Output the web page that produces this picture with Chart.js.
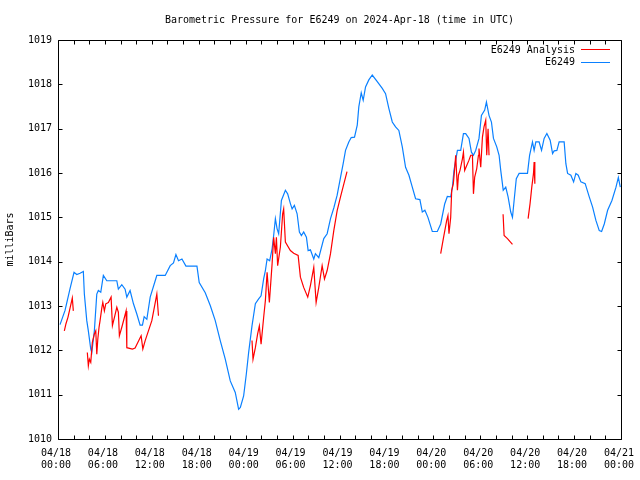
<!DOCTYPE html>
<html>
<head>
<meta charset="utf-8">
<title>Barometric Pressure E6249</title>
<script src="https://cdn.jsdelivr.net/npm/chart.js@4.4.1/dist/chart.umd.min.js"></script>
<style>
  body { margin: 0; background: #fff; }
  canvas { display: block; }
</style>
</head>
<body>
<canvas id="chart" width="640" height="480"></canvas>
<script>
// hours since 2024-04-18 00:00 UTC
const blueHours = [0.26,0.90,1.54,2.05,2.40,2.82,3.24,3.37,3.68,3.88,
  4.19,4.32,4.65,4.96,5.16,5.47,5.80,6.24,7.52,7.72,
  8.16,8.58,8.80,9.22,9.65,10.08,10.50,10.80,11.02,11.36,
  11.79,12.43,12.64,13.71,14.35,14.77,15.08,15.41,15.85,16.36,
  17.77,18.06,18.83,19.47,20.11,20.75,21.39,22.03,22.67,23.10,
  23.32,23.74,24.08,24.38,24.81,25.24,25.66,25.97,26.30,26.52,
  26.74,27.07,27.38,27.58,27.80,28.02,28.22,28.57,29.08,29.37,
  29.72,29.94,30.23,30.58,30.87,31.13,31.42,31.77,31.99,32.28,
  32.71,32.92,33.35,33.99,34.42,34.85,35.27,35.70,36.13,36.47,
  36.77,37.19,37.50,37.92,38.27,38.47,38.78,39.03,39.33,39.75,
  40.19,40.83,41.47,41.89,42.31,42.75,43.17,43.59,44.03,44.45,
  44.88,45.31,45.73,46.28,46.59,46.92,47.31,47.87,48.51,48.94,
  49.45,49.79,50.22,50.44,50.64,51.08,51.50,51.85,52.14,52.56,
  52.87,53.13,53.42,53.84,54.15,54.57,54.79,55.12,55.43,55.69,
  56.11,56.41,56.62,56.94,57.26,57.56,57.90,58.12,58.33,58.61,
  58.97,60.04,60.31,60.68,60.89,61.11,61.53,61.84,62.17,62.52,
  62.94,63.25,63.45,63.80,64.09,64.73,64.95,65.17,65.59,65.94,
  66.23,66.53,66.87,67.42,67.94,68.37,68.79,69.22,69.52,69.86,
  70.29,70.84,71.36,71.66,71.91];
const bluePressure = [1012.58,1012.90,1013.39,1013.76,1013.71,1013.74,1013.78,1013.27,1012.67,1012.44,
  1012.03,1011.95,1012.44,1013.27,1013.35,1013.31,1013.69,1013.57,1013.57,1013.38,
  1013.48,1013.38,1013.20,1013.35,1013.05,1012.82,1012.57,1012.57,1012.76,1012.70,
  1013.20,1013.57,1013.69,1013.69,1013.91,1013.97,1014.16,1014.02,1014.06,1013.90,
  1013.90,1013.53,1013.30,1013.01,1012.67,1012.22,1011.80,1011.31,1011.05,1010.67,
  1010.71,1010.97,1011.46,1011.95,1012.55,1013.05,1013.16,1013.23,1013.61,1013.80,
  1014.06,1014.02,1014.29,1014.59,1014.97,1014.74,1014.63,1015.38,1015.61,1015.53,
  1015.31,1015.19,1015.27,1015.08,1014.67,1014.59,1014.67,1014.55,1014.25,1014.27,
  1014.06,1014.18,1014.09,1014.52,1014.63,1014.97,1015.21,1015.50,1015.90,1016.21,
  1016.51,1016.70,1016.80,1016.81,1017.08,1017.49,1017.81,1017.64,1017.94,1018.10,
  1018.21,1018.06,1017.91,1017.79,1017.46,1017.15,1017.04,1016.96,1016.59,1016.13,
  1015.95,1015.68,1015.42,1015.40,1015.12,1015.16,1015.00,1014.68,1014.68,1014.85,
  1015.30,1015.47,1015.46,1015.68,1016.06,1016.51,1016.51,1016.89,1016.89,1016.78,
  1016.47,1016.40,1016.51,1016.78,1017.30,1017.42,1017.60,1017.30,1017.15,1016.78,
  1016.59,1016.40,1016.06,1015.61,1015.68,1015.46,1015.12,1015.00,1015.38,1015.87,
  1015.99,1015.99,1016.40,1016.70,1016.51,1016.70,1016.70,1016.51,1016.78,1016.89,
  1016.74,1016.44,1016.50,1016.51,1016.70,1016.70,1016.21,1015.99,1015.95,1015.80,
  1015.99,1015.95,1015.80,1015.76,1015.46,1015.23,1014.93,1014.70,1014.68,1014.85,
  1015.16,1015.38,1015.68,1015.90,1015.68];

// analysis series, null = no data (gap)
const redHours = [0.81,1.02,1.28,1.54,1.83,1.96,3.0,
  3.75,3.88,4.01,4.19,4.39,4.65,4.83,4.96,5.09,5.25,
  5.38,5.60,5.73,5.93,6.11,6.44,6.79,6.96,7.21,7.52,
  7.72,7.85,8.16,8.49,8.71,8.80,9.52,9.86,10.63,10.85,
  11.15,12.00,12.64,12.85,18,
  24.81,24.94,25.24,25.53,25.75,25.97,26.30,26.52,26.74,27.03,
  27.38,27.58,27.80,27.93,28.09,28.44,28.73,28.86,29.08,29.72,
  30.14,30.71,31.00,31.42,31.94,32.28,32.71,33.01,33.35,33.78,
  34.08,34.42,34.85,35.27,35.70,36.13,36.96,42,
  48.94,49.28,49.71,49.87,50.00,50.22,50.35,50.56,50.73,50.86,
  51.08,51.21,51.41,51.72,51.85,52.01,52.27,52.56,52.78,53.00,
  53.13,53.29,53.55,53.77,53.84,54.06,54.28,54.48,54.70,54.83,
  55.00,55.12,56,
  56.92,57.05,57.48,58.12,59,
  60.12,60.37,60.59,60.81,60.89,60.98];
const redPressure = [1012.44,1012.60,1012.75,1012.95,1013.18,1012.89,null,
  1011.95,1011.65,1011.80,1011.73,1012.18,1012.37,1012.44,1011.91,1012.25,1012.52,
  1012.67,1012.95,1013.08,1012.89,1013.05,1013.08,1013.20,1012.56,1012.74,1012.97,
  1012.86,1012.33,1012.52,1012.74,1012.89,1012.06,1012.03,1012.05,1012.33,1012.03,
  1012.22,1012.67,1013.27,1012.78,null,
  1012.22,1011.80,1012.06,1012.37,1012.55,1012.14,1012.74,1013.12,1013.76,1013.08,
  1013.95,1014.55,1014.18,1014.55,1013.91,1014.33,1015.08,1015.19,1014.44,1014.25,
  1014.19,1014.14,1013.65,1013.42,1013.20,1013.46,1013.87,1013.08,1013.42,1013.91,
  1013.61,1013.80,1014.18,1014.70,1015.15,1015.46,1016.03,null,
  1014.18,1014.52,1014.93,1015.04,1014.63,1015.00,1015.61,1015.76,1016.10,1016.40,
  1015.61,1015.95,1016.06,1016.32,1016.47,1016.06,1016.17,1016.29,1016.40,1016.40,
  1015.53,1015.91,1016.10,1016.40,1016.55,1016.13,1016.81,1017.04,1017.19,1016.40,
  1017.00,1016.40,null,
  1015.07,1014.59,1014.52,1014.39,null,
  1014.97,1015.31,1015.68,1015.99,1016.25,1015.76];

const seriesNames = ['E6249 Analysis', 'E6249'];
const seriesColors = ['#ff0000', '#0a80ff'];
const days = ['04/18', '04/19', '04/20', '04/21'];

const monoFont = { family: '"DejaVu Sans Mono", "Liberation Mono", monospace', size: 10, weight: 'normal' };

function toPoints(hours, values) {
  return hours.map((h, i) => ({ x: h, y: values[i] }));
}

// gnuplot style frame with inward ticks
const frameTicks = {
  id: 'frameTicks',
  afterDatasetsDraw(chart) {
    const { ctx, chartArea, scales } = chart;
    const left = Math.round(chartArea.left) + 0.5;
    const right = Math.round(chartArea.right) + 0.5;
    const top = Math.round(chartArea.top) + 0.5;
    const bottom = Math.round(chartArea.bottom) + 0.5;
    ctx.save();
    ctx.strokeStyle = '#000';
    ctx.lineWidth = 1;
    ctx.beginPath();
    for (let h = 0; h <= 72; h += 2) {
      const px = Math.round(scales.x.getPixelForValue(h)) + 0.5;
      ctx.moveTo(px, bottom); ctx.lineTo(px, bottom - 4);
      ctx.moveTo(px, top); ctx.lineTo(px, top + 4);
    }
    for (let v = 1010; v <= 1019; v++) {
      const py = Math.round(scales.y.getPixelForValue(v)) + 0.5;
      ctx.moveTo(left, py); ctx.lineTo(left + 4, py);
      ctx.moveTo(right, py); ctx.lineTo(right - 4, py);
    }
    ctx.rect(left, top, right - left, bottom - top);
    ctx.stroke();
    ctx.restore();
  }
};

// legend in the top right corner, text then line sample
const keyBox = {
  id: 'keyBox',
  afterDraw(chart) {
    const ctx = chart.ctx;
    ctx.save();
    ctx.font = '10px ' + monoFont.family;
    ctx.textAlign = 'right';
    ctx.textBaseline = 'middle';
    chart.data.datasets.forEach((ds, i) => {
      const y = 50 + i * 12.5;
      ctx.fillStyle = '#000';
      ctx.fillText(ds.label, 575, y);
      ctx.strokeStyle = ds.borderColor;
      ctx.lineWidth = 1;
      ctx.beginPath();
      ctx.moveTo(581, Math.round(y) - 0.5);
      ctx.lineTo(610, Math.round(y) - 0.5);
      ctx.stroke();
    });
    ctx.restore();
  }
};

new Chart(document.getElementById('chart'), {
  type: 'line',
  data: {
    datasets: [
      {
        label: seriesNames[0],
        data: toPoints(redHours, redPressure),
        borderColor: seriesColors[0],
        borderWidth: 1.2,
        pointRadius: 0,
        spanGaps: false,
        tension: 0
      },
      {
        label: seriesNames[1],
        data: toPoints(blueHours, bluePressure),
        borderColor: seriesColors[1],
        borderWidth: 1.2,
        pointRadius: 0,
        tension: 0
      }
    ]
  },
  options: {
    responsive: false,
    animation: false,
    devicePixelRatio: 1,
    layout: { padding: { top: 0, right: 19, bottom: 0, left: 0 } },
    plugins: {
      legend: { display: false },
      tooltip: { enabled: false },
      title: {
        display: true,
        text: 'Barometric Pressure for E6249 on 2024-Apr-18 (time in UTC)',
        fullSize: false,
        color: '#000',
        font: monoFont,
        padding: { top: 14, bottom: 14 }
      }
    },
    scales: {
      x: {
        type: 'linear',
        min: 0,
        max: 72,
        grid: { display: false, drawTicks: false },
        border: { display: false },
        ticks: {
          stepSize: 6,
          autoSkip: false,
          maxRotation: 0,
          padding: 8,
          labelOffset: -2,
          color: '#000',
          font: monoFont,
          callback: function (value) {
            const d = days[Math.floor(value / 24)];
            const hr = value % 24;
            return [d, (hr < 10 ? '0' : '') + hr + ':00'];
          }
        },
        afterFit: function (scale) {
          scale.height = 41;
          scale.paddingLeft = 0;
          scale.paddingRight = 0;
        }
      },
      y: {
        min: 1010,
        max: 1019,
        grid: { display: false, drawTicks: false },
        border: { display: false },
        ticks: {
          stepSize: 1,
          padding: 6,
          color: '#000',
          font: monoFont,
          callback: function (value) { return String(value); }
        },
        title: {
          display: true,
          text: 'milliBars',
          color: '#000',
          font: monoFont,
          padding: { top: 4, bottom: 0 }
        },
        afterFit: function (scale) { scale.width = 58; }
      }
    }
  },
  plugins: [frameTicks, keyBox]
});
</script>
</body>
</html>
